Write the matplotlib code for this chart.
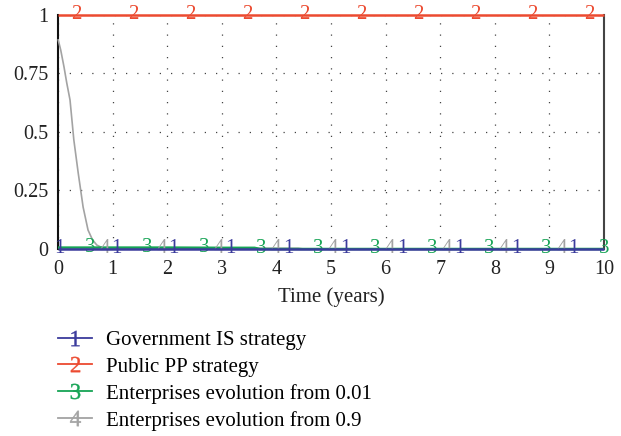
import numpy as np
import matplotlib
matplotlib.use("Agg")
import matplotlib.pyplot as plt
from matplotlib.lines import Line2D

plt.rcParams["font.family"] = ["Liberation Serif", "DejaVu Serif"]
plt.rcParams["mathtext.fontset"] = "custom"
plt.rcParams["mathtext.rm"] = "Liberation Serif"
plt.rcParams["mathtext.it"] = "Liberation Serif"

# Series data (time in years, strategy proportion)
gov_t = [0, 10]
gov_v = [0.0, 0.0]

public_t = [0, 10]
public_v = [1.0, 1.0]

ent01_t = [0, 1, 2, 3, 3.6, 3.7, 10]
ent01_v = [0.006, 0.006, 0.006, 0.005, 0.005, 0.0, 0.0]

ent09_t = [0, 0.05, 0.11, 0.16, 0.22, 0.29, 0.37, 0.46, 0.55, 0.63, 0.71, 0.82, 1.0,
           2.0, 3.0, 4.4, 4.5, 10]
ent09_v = [0.897, 0.85, 0.778, 0.71, 0.637, 0.466, 0.325, 0.179, 0.081, 0.04, 0.017,
           0.004, 0.003, 0.003, 0.003, 0.003, 0.0, 0.0]

labels = ["Government IS strategy", "Public PP strategy",
          "Enterprises evolution from 0.01", "Enterprises evolution from 0.9"]
x_ticks = [0, 1, 2, 3, 4, 5, 6, 7, 8, 9, 10]
y_ticks = [0, 0.25, 0.5, 0.75, 1]
y_tick_labels = ["0", "0.25", "0.5", "0.75", "1"]

colors = ["#3b3b9c", "#ec4a30", "#16a455", "#a3a3a3"]
series = [(gov_t, gov_v), (public_t, public_v), (ent01_t, ent01_v), (ent09_t, ent09_v)]
marker_start = [0.03, 0.33, 0.59, 0.86]
marker_step = 1.045
widths = [1.8, 1.8, 1.8, 1.2]
zorders = [6, 5, 4, 3]

fig = plt.figure(figsize=(6.21, 4.36), dpi=100)
ax = fig.add_axes([0.0934, 0.4289, 0.8792, 0.5367])

for i, (t, v) in enumerate(series):
    ax.plot(t, v, color=colors[i], lw=widths[i], clip_on=False, zorder=zorders[i],
            solid_capstyle="butt")
    mt = np.arange(marker_start[i], 10.02, marker_step)
    mv = np.interp(mt, t, v)
    for x, y in zip(mt, mv):
        ax.text(x, y, str(i + 1), color=colors[i], fontsize=15, ha="center",
                va="center", zorder=zorders[i] + 1, clip_on=False)

ax.set_xlim(0, 10)
ax.set_ylim(0, 1)
ax.set_xticks(x_ticks)
ax.set_xticklabels([str(x) for x in x_ticks])
ax.set_yticks(y_ticks)
ax.set_yticklabels(y_tick_labels)
ax.tick_params(length=0, labelsize=14.5, colors="#222222")
ax.tick_params(axis="y", pad=7)
ax.tick_params(axis="x", pad=8)

ax.grid(True, color="#444444", lw=0.9, linestyle=(0, (1, 8)))
ax.set_axisbelow(True)
for side in ["top", "bottom"]:
    ax.spines[side].set_visible(False)
ax.spines["left"].set_color("#111111")
ax.spines["left"].set_linewidth(1.5)
ax.spines["right"].set_color("#444444")
ax.spines["right"].set_linewidth(1.5)

ax.set_xlabel("Time (years)", fontsize=15, color="#222222", labelpad=6)

handles = [Line2D([], [], color=c, lw=1.3, marker=f"${k + 1}$", markersize=11,
                  markeredgewidth=0.3)
           for k, c in enumerate(colors)]
fig.legend(handles, labels, loc="upper left", bbox_to_anchor=(0.0934, 0.242),
           frameon=False, fontsize=15, handlelength=1.65, handletextpad=0.63,
           labelspacing=0.34, borderaxespad=0, borderpad=0)

fig.savefig("out.png", dpi=100)
